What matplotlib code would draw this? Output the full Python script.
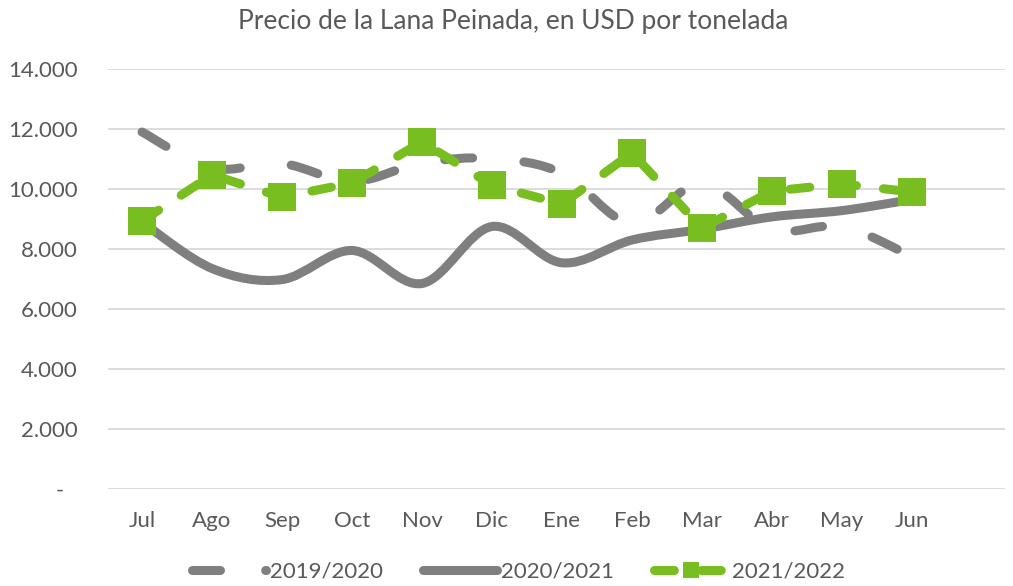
import numpy as np
import matplotlib.pyplot as plt
from matplotlib.path import Path
from matplotlib.patches import PathPatch
from matplotlib.lines import Line2D
from matplotlib.ticker import FuncFormatter
from matplotlib.transforms import ScaledTranslation

# Datos (USD por tonelada)
meses = ['Jul', 'Ago', 'Sep', 'Oct', 'Nov', 'Dic', 'Ene', 'Feb', 'Mar', 'Abr', 'May', 'Jun']
precio_2019 = [11900, 10700, 10850, 10250, 10870, 11020, 10530, 8850, 10180, 8650, 8750, 7750]
precio_2020 = [8900, 7350, 6980, 7950, 6850, 8750, 7540, 8300, 8660, 9070, 9280, 9650]
precio_2021 = [8930, 10470, 9730, 10200, 11570, 10130, 9500, 11200, 8700, 9930, 10170, 9900]
etiquetas = ['2019/2020', '2020/2021', '2021/2022']

gris = '#7F7F7F'
verde = '#78BE21'
texto = '#595959'
lw = 6.5

plt.rcParams['font.family'] = ['Lato', 'DejaVu Sans']


def curva_suave(x, y):
    # camino Bezier tipo Catmull-Rom (línea suavizada como en Excel)
    p = np.column_stack([x, y]).astype(float)
    n = len(p)
    verts = [p[0]]
    codes = [Path.MOVETO]
    for i in range(n - 1):
        a = p[max(i - 1, 0)]
        b = p[min(i + 2, n - 1)]
        c1 = p[i] + (p[i + 1] - a) / 6
        c2 = p[i + 1] - (b - p[i]) / 6
        verts += [c1, c2, p[i + 1]]
        codes += [Path.CURVE4] * 3
    return Path(verts, codes)


fig = plt.figure(figsize=(10.13, 5.86), dpi=100)
ax = fig.add_axes([108 / 1013, 97 / 586, 897 / 1013, 420 / 586])

x = np.arange(len(meses))

ax.add_patch(PathPatch(curva_suave(x, precio_2019), fill=False, edgecolor=gris, lw=lw,
                       linestyle=(0, (3.1, 5.7)), capstyle='round', zorder=3))
ax.add_patch(PathPatch(curva_suave(x, precio_2020), fill=False, edgecolor=gris, lw=lw,
                       capstyle='round', joinstyle='round', zorder=3))
ax.plot(x, precio_2021, color=verde, lw=lw, linestyle=(0, (2.2, 3.0)),
        dash_capstyle='round', marker='s', markersize=20, markeredgewidth=0, zorder=4)

ax.set_xlim(-0.486, 12.33)
ax.set_ylim(0, 14000)
ax.set_yticks(range(0, 14001, 2000))
ax.yaxis.set_major_formatter(FuncFormatter(
    lambda v, pos: '-' if v == 0 else f'{int(v):,}'.replace(',', '.')))
ax.set_xticks(x, meses)

ax.grid(axis='y', color='#D9D9D9', lw=1.3, zorder=0)
ax.set_axisbelow(True)
for s in ax.spines.values():
    s.set_visible(False)
ax.tick_params(axis='both', length=0, labelsize=16, labelcolor=texto)
ax.tick_params(axis='y', pad=22)
ax.tick_params(axis='x', pad=16)

# el "-" del cero queda desplazado a la izquierda (formato contable)
etiq0 = ax.yaxis.get_major_ticks()[0].label1
etiq0.set_transform(etiq0.get_transform() + ScaledTranslation(-0.14, 0, fig.dpi_scale_trans))

fig.text(0.507, 1 - 22 / 586, 'Precio de la Lana Peinada, en USD por tonelada',
         ha='center', va='center', fontsize=19, color=texto)

handles = [
    Line2D([], [], color=gris, lw=lw, linestyle=(0, (3.1, 5.0)), dash_capstyle='round'),
    Line2D([], [], color=gris, lw=lw, solid_capstyle='round'),
    Line2D([], [], color=verde, lw=lw, linestyle=(0, (2.2, 3.0)), dash_capstyle='round',
           marker='s', markersize=11, markeredgewidth=0),
]
leg = fig.legend(handles, etiquetas, loc='center', bbox_to_anchor=(0.512, 1 - 572 / 586),
                 ncol=3, frameon=False, fontsize=16, handlelength=3.3,
                 handletextpad=0.2, columnspacing=1.8)
for t in leg.get_texts():
    t.set_color(texto)

fig.savefig('out.png', dpi=100)
